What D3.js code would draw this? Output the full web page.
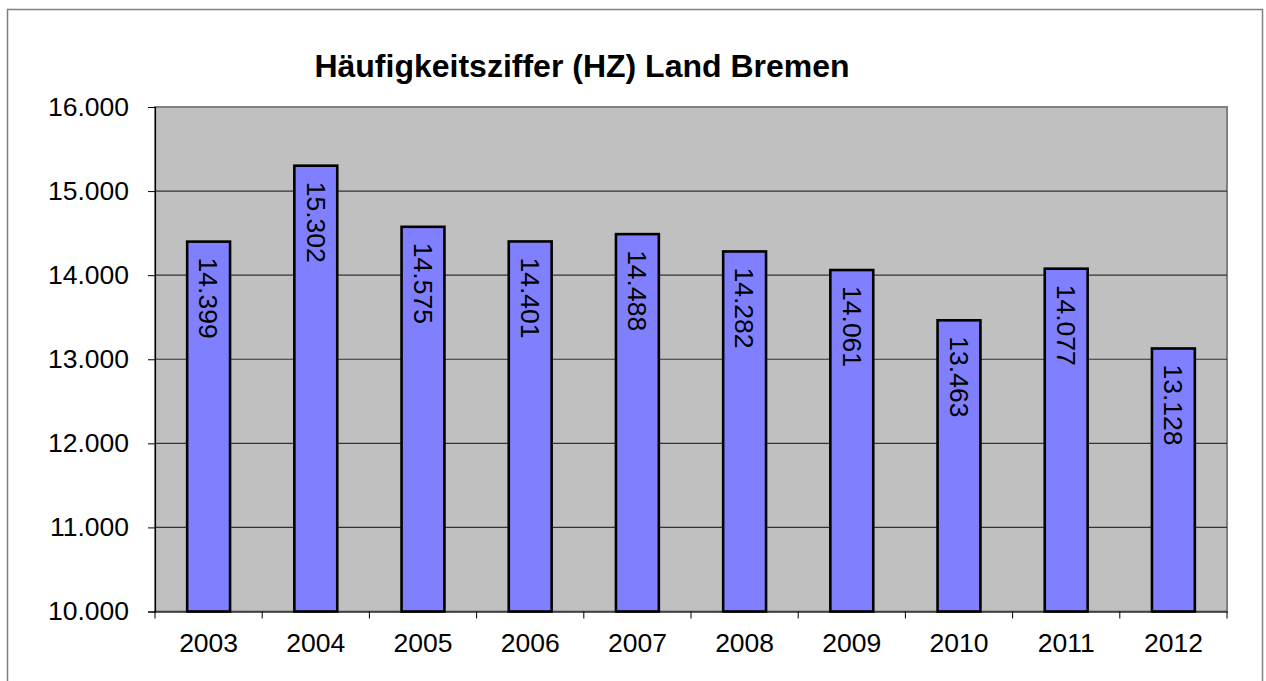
<!DOCTYPE html>
<html><head><meta charset="utf-8">
<script src="https://cdn.jsdelivr.net/npm/d3@7"></script>
<style>body{margin:0;background:#fff;} svg{display:block;} text{font-family:"Liberation Sans",Arial,sans-serif;}</style>
</head><body>
<svg id="c" width="1266" height="681"></svg>
<script>
const years = ["2003","2004","2005","2006","2007","2008","2009","2010","2011","2012"];
const values = [14399,15302,14575,14401,14488,14282,14061,13463,14077,13128];
const yTicks = [10000,11000,12000,13000,14000,15000,16000];
const title = "Häufigkeitsziffer (HZ) Land Bremen";

const svg = d3.select("#c");
const loc = d3.formatLocale({decimal:",", thousands:".", grouping:[3], currency:["","€"]});
const fmt = loc.format(",.0f");
const m = {l:155, r:1227, t:107, b:611.5};
const fs = 26.5;

svg.append("rect").attr("x",7.5).attr("y",9.5).attr("width",1255).attr("height",700)
  .attr("fill","#fff").attr("stroke","#808080").attr("stroke-width",1.5);

const x = d3.scaleBand().domain(years).range([m.l,m.r]).paddingInner(0.6).paddingOuter(0.3);
const y = d3.scaleLinear().domain([10000,16000]).range([m.b,m.t]);

svg.append("rect").attr("x",m.l).attr("y",m.t).attr("width",m.r-m.l).attr("height",m.b-m.t)
  .attr("fill","#c0c0c0").attr("stroke","#808080").attr("stroke-width",2);

svg.append("g").selectAll("line").data(yTicks.slice(1,-1)).join("line")
  .attr("x1",m.l).attr("x2",m.r).attr("y1",d=>y(d)).attr("y2",d=>y(d))
  .attr("stroke","#333").attr("stroke-width",1.2);

svg.append("g").selectAll("rect").data(values).join("rect")
  .attr("x",(d,i)=>x(years[i])).attr("width",x.bandwidth())
  .attr("y",d=>y(d)).attr("height",d=>y(10000)-y(d))
  .attr("fill","#8080ff").attr("stroke","#000").attr("stroke-width",2.6);

svg.append("g").selectAll("text").data(values).join("text")
  .attr("transform",(d,i)=>`translate(${x(years[i])+x.bandwidth()/2},${y(d)+16}) rotate(90)`)
  .attr("dy","0.35em").attr("font-size",fs).attr("fill","#000").text(d=>fmt(d));

const ya = svg.append("g").attr("transform",`translate(${m.l},0)`)
  .call(d3.axisLeft(y).tickValues(yTicks).tickFormat(fmt).tickSize(7).tickPadding(19));
ya.select(".domain").attr("stroke","#000").attr("stroke-width",1.2);
ya.selectAll("line").attr("stroke","#000");
ya.selectAll("text").attr("font-size",fs).attr("fill","#000").attr("font-family","Liberation Sans, Arial, sans-serif");

const xa = svg.append("g").attr("transform",`translate(0,${m.b})`)
  .call(d3.axisBottom(x).tickSize(0).tickPadding(22));
xa.select(".domain").attr("stroke","#000").attr("stroke-width",1.2);
xa.selectAll("text").attr("font-size",fs).attr("fill","#000").attr("font-family","Liberation Sans, Arial, sans-serif");
const step = x.step();
svg.append("g").selectAll("line").data(d3.range(years.length+1)).join("line")
  .attr("x1",i=>x(years[0]) - step*0.3 + i*step).attr("x2",i=>x(years[0]) - step*0.3 + i*step)
  .attr("y1",m.b).attr("y2",m.b+7).attr("stroke","#000").attr("stroke-width",1);

svg.append("text").attr("x",582).attr("y",77).attr("text-anchor","middle")
  .attr("font-size",32).attr("font-weight","bold").attr("fill","#000").text(title);
</script>
</body></html>
